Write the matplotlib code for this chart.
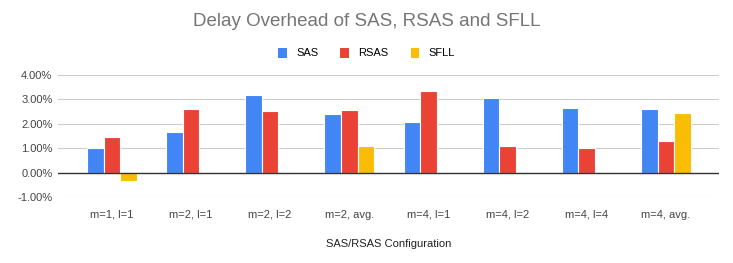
import numpy as np
import matplotlib
matplotlib.use("Agg")
import matplotlib.pyplot as plt
from matplotlib.patches import Patch

plt.rcParams['font.family'] = ['Liberation Sans', 'DejaVu Sans']

configs = ["m=1, l=1", "m=2, l=1", "m=2, l=2", "m=2, avg.",
           "m=4, l=1", "m=4, l=2", "m=4, l=4", "m=4, avg."]
sas = [1.00, 1.67, 3.20, 2.41, 2.07, 3.05, 2.64, 2.60]
rsas = [1.46, 2.62, 2.53, 2.58, 3.34, 1.08, 1.00, 1.29]
sfll = [-0.34, np.nan, np.nan, 1.09, np.nan, np.nan, np.nan, 2.44]
yticks = [-1, 0, 1, 2, 3, 4]

series = [("SAS", sas, "#4285F4"), ("RSAS", rsas, "#EA4335"), ("SFLL", sfll, "#FBBC04")]

fig = plt.figure(figsize=(7.33, 2.63), dpi=100)
ax = fig.add_axes([58/733, 1 - 197/263, (719 - 58)/733, (197 - 75)/263])

x = np.arange(len(configs))
w = 0.21
for i, (name, vals, col) in enumerate(series):
    ax.bar(x + (i - 1) * w, vals, width=w, color=col, edgecolor="white",
           linewidth=0.8, zorder=3, label=name)

ax.set_xlim(-0.68, 7.67)
ax.set_ylim(-1, 4)
ax.set_yticks(yticks)
ax.set_yticklabels(["%.2f%%" % v for v in yticks])
ax.set_xticks(x)
ax.set_xticklabels(configs)
ax.grid(axis="y", color="#cccccc", linewidth=0.8, zorder=0)
ax.axhline(0, color="#333333", linewidth=1.0, zorder=4)
for s in ax.spines.values():
    s.set_visible(False)
ax.tick_params(length=0, labelsize=8, colors="#444444")
ax.tick_params(axis="x", pad=9)
ax.tick_params(axis="y", pad=4)
ax.set_xlabel("SAS/RSAS Configuration", fontsize=8, color="#222222", labelpad=14)

fig.text(0.5, 1 - 22/263, "Delay Overhead of SAS, RSAS and SFLL", ha="center", va="center",
         fontsize=13.5, color="#757575")
handles = [Patch(facecolor=c, edgecolor="none", label=n) for n, _, c in series]
fig.legend(handles=handles, loc="center", bbox_to_anchor=(0.5, 1 - 53/263), ncol=3,
           frameon=False, fontsize=8, handlelength=0.8, handleheight=1.0,
           handletextpad=0.8, columnspacing=2.0)

fig.savefig("out.png", dpi=100)
